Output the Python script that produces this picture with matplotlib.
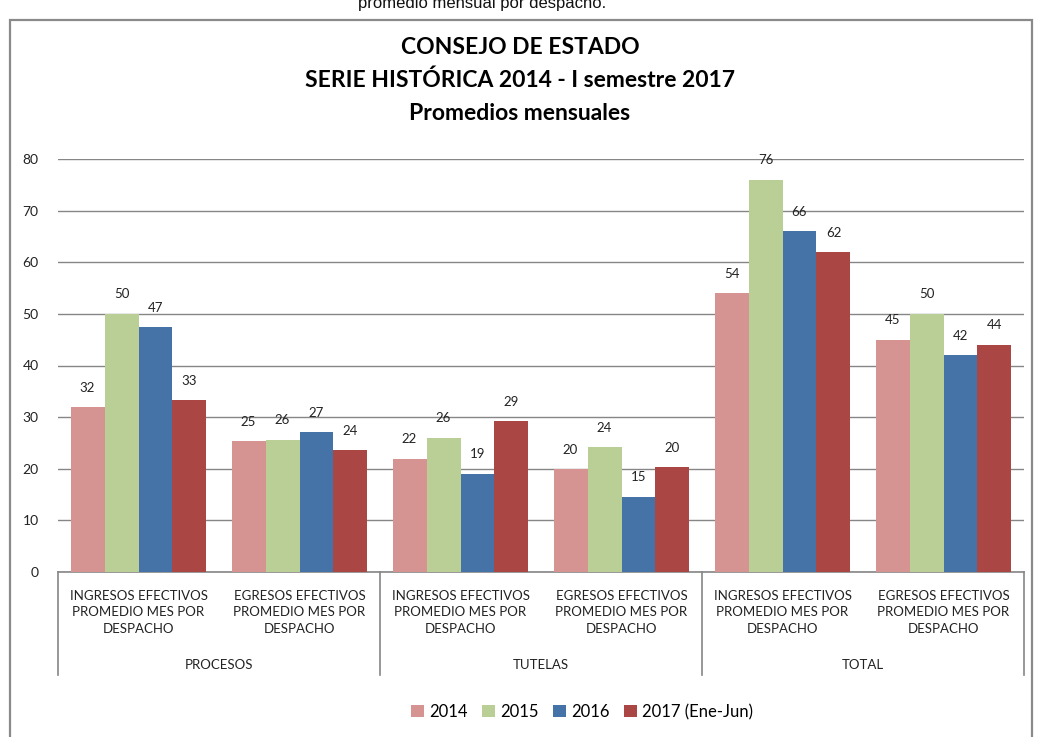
import numpy as np
import matplotlib.pyplot as plt
from matplotlib.patches import Rectangle

# Datos (promedios mensuales por despacho)
subcategorias = [
    "INGRESOS EFECTIVOS\nPROMEDIO MES POR\nDESPACHO",
    "EGRESOS EFECTIVOS\nPROMEDIO MES POR\nDESPACHO",
] * 3
grupos = ["PROCESOS", "TUTELAS", "TOTAL"]
series = ["2014", "2015", "2016", "2017 (Ene-Jun)"]

v2014 = [31.9, 25.3, 21.9, 19.9, 54.0, 45.0]
v2015 = [50.0, 25.6, 26.0, 24.2, 76.0, 50.0]
v2016 = [47.4, 27.1, 19.0, 14.6, 66.0, 42.0]
v2017 = [33.3, 23.6, 29.2, 20.3, 61.9, 44.0]

colores = ["#D59391", "#B9CF95", "#4572A7", "#AA4643"]

plt.rcParams["font.family"] = ["Lato", "DejaVu Sans"]

fig = plt.figure(figsize=(10.4, 7.37), dpi=100)
ax = fig.add_axes([58 / 1040, 1 - 572 / 737, (1024 - 58) / 1040, (572 - 159) / 737])

x = np.arange(len(subcategorias))
ancho = 0.211
valores = [v2014, v2015, v2016, v2017]
for i, (vals, col, nombre) in enumerate(zip(valores, colores, series)):
    pos = x + (i - 1.5) * ancho
    barras = ax.bar(pos, vals, ancho, color=col, label=nombre, zorder=3)
    for b, v in zip(barras, vals):
        ax.annotate(f"{v:.0f}", (b.get_x() + b.get_width() / 2, v),
                    xytext=(0, 14), textcoords="offset points",
                    ha="center", va="center", fontsize=9.5, color="#222222")

ax.set_xlim(-0.5, len(subcategorias) - 0.5)
ax.set_ylim(0, 80)
ax.set_yticks(range(0, 81, 10))
ax.yaxis.grid(True, color="#868686", linewidth=1.0, zorder=0)
ax.tick_params(axis="y", length=0, pad=14, labelsize=10, labelcolor="#222222")
ax.set_xticks([])
for lado in ["top", "right", "left"]:
    ax.spines[lado].set_visible(False)
ax.spines["bottom"].set_color("#868686")
ax.spines["bottom"].set_linewidth(1.2)

# eje de categorias jerarquico
trans = ax.get_xaxis_transform()
for xl in [-0.5, 1.5, 3.5, 5.5]:
    ax.plot([xl, xl], [0, -0.25], transform=trans, color="#868686",
            linewidth=1.2, clip_on=False)
for xi, texto in zip(x, subcategorias):
    ax.text(xi, -0.098, texto, transform=trans, ha="center", va="center",
            fontsize=9.5, linespacing=1.45, color="#222222")
for gi, g in enumerate(grupos):
    ax.text(2 * gi + 0.5, -0.226, g, transform=trans, ha="center",
            va="center", fontsize=9.5, color="#222222")

# titulo
fig.text(0.5, 1 - 47 / 737, "CONSEJO DE ESTADO", ha="center", va="center",
         fontsize=16.5, fontweight="bold")
fig.text(0.5, 1 - 80 / 737, "SERIE HISTÓRICA 2014 - I semestre 2017",
         ha="center", va="center", fontsize=16.5, fontweight="bold")
fig.text(0.5, 1 - 113 / 737, "Promedios mensuales", ha="center",
         va="center", fontsize=16.5, fontweight="bold")

# texto cortado arriba (viene del documento original)
fig.text(482 / 1040, 1 - 8 / 737, "promedio mensual por despacho.",
         ha="center", va="baseline", fontsize=12,
         family=["Liberation Sans", "DejaVu Sans"], color="#111111")

# marco exterior
fig.patches.append(Rectangle((10 / 1040, -0.05), 1022 / 1040, 1 - 20 / 737 + 0.05,
                             transform=fig.transFigure, fill=False,
                             edgecolor="#8a8a8a", linewidth=1.6))

fig.legend(loc="center", bbox_to_anchor=(582 / 1040, 1 - 712 / 737), ncol=4,
           frameon=False, fontsize=12, handlelength=0.75, handleheight=0.75,
           handletextpad=0.3, columnspacing=0.9)

fig.savefig("out.png", dpi=100)
